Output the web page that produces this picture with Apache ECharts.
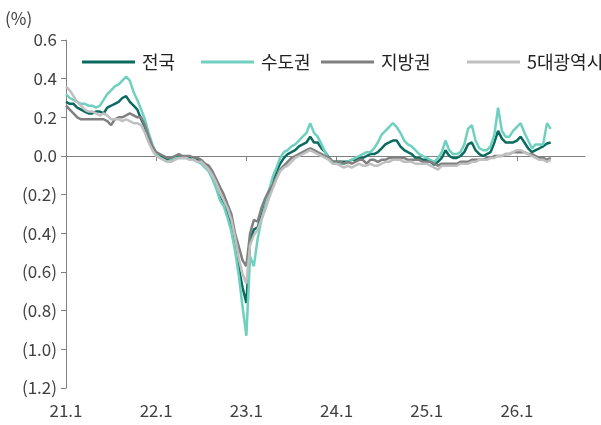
<!DOCTYPE html>
<html>
<head>
<meta charset="utf-8">
<script src="https://cdn.jsdelivr.net/npm/echarts@6/dist/echarts.min.js"></script>
<style>
html,body{margin:0;padding:0;background:#fff;}
#c{width:601px;height:425px;}
</style>
</head>
<body>
<div id="c"></div>
<script>
// Semi-monthly observations (1st and 16th of each month), Jan 2021 – mid May 2026
const seriesNames = ['전국', '수도권', '지방권', '5대광역시'];
const xTickYears = [2021, 2022, 2023, 2024, 2025, 2026];

const nationwide = [
  0.28, 0.27, 0.27, 0.25, 0.24, 0.23, 0.22, 0.22, 0.23, 0.23, 0.22, 0.25, 0.26, 0.27, 0.28, 0.30, 0.31, 0.28, 0.26, 0.24, 0.19, 0.15, 0.09, 0.04,
  0.01, 0.00, -0.01, -0.02, -0.02, -0.01, 0.00, -0.01, 0.00, -0.01, -0.01, -0.02, -0.03, -0.05, -0.07, -0.11, -0.16, -0.20, -0.24, -0.29, -0.35, -0.45, -0.58, -0.68,
  -0.76, -0.44, -0.38, -0.37, -0.31, -0.25, -0.19, -0.13, -0.08, -0.04, -0.01, 0.01, 0.02, 0.03, 0.05, 0.06, 0.07, 0.10, 0.07, 0.07, 0.04, 0.02, -0.01, -0.03,
  -0.03, -0.03, -0.03, -0.03, -0.02, -0.02, -0.01, -0.01, 0.00, 0.01, 0.01, 0.02, 0.04, 0.06, 0.07, 0.08, 0.08, 0.05, 0.03, 0.02, 0.01, -0.01, -0.01, -0.02,
  -0.02, -0.03, -0.045, -0.03, -0.01, 0.03, 0.00, -0.01, -0.01, 0.00, 0.02, 0.06, 0.07, 0.03, 0.01, 0.00, 0.01, 0.02, 0.07, 0.13, 0.09, 0.07, 0.07, 0.07,
  0.08, 0.10, 0.07, 0.04, 0.02, 0.03, 0.04, 0.05, 0.065, 0.07
];
const capital = [
  0.32, 0.30, 0.29, 0.28, 0.27, 0.27, 0.26, 0.26, 0.25, 0.26, 0.29, 0.32, 0.34, 0.36, 0.37, 0.39, 0.41, 0.39, 0.33, 0.29, 0.24, 0.19, 0.12, 0.06,
  0.01, -0.01, -0.02, -0.03, -0.02, -0.01, -0.01, -0.01, -0.01, -0.02, -0.02, -0.03, -0.04, -0.06, -0.08, -0.12, -0.17, -0.23, -0.26, -0.32, -0.39, -0.49, -0.62, -0.78,
  -0.93, -0.52, -0.57, -0.43, -0.33, -0.26, -0.18, -0.11, -0.06, -0.01, 0.02, 0.03, 0.05, 0.06, 0.08, 0.10, 0.12, 0.17, 0.12, 0.10, 0.06, 0.02, -0.02, -0.04,
  -0.04, -0.04, -0.04, -0.03, -0.02, -0.01, 0.00, 0.01, 0.02, 0.02, 0.04, 0.07, 0.11, 0.13, 0.15, 0.17, 0.15, 0.12, 0.08, 0.06, 0.05, 0.03, 0.01, 0.00,
  -0.01, -0.02, -0.03, -0.01, 0.02, 0.08, 0.03, 0.01, 0.01, 0.02, 0.06, 0.14, 0.16, 0.08, 0.04, 0.03, 0.03, 0.05, 0.11, 0.25, 0.13, 0.10, 0.10, 0.13,
  0.15, 0.17, 0.12, 0.08, 0.04, 0.06, 0.06, 0.06, 0.17, 0.14
];
const provinces = [
  0.26, 0.24, 0.22, 0.20, 0.19, 0.19, 0.19, 0.19, 0.19, 0.19, 0.19, 0.18, 0.16, 0.19, 0.20, 0.20, 0.21, 0.22, 0.21, 0.20, 0.20, 0.16, 0.10, 0.05,
  0.02, 0.01, 0.00, -0.01, -0.01, 0.00, 0.01, 0.00, 0.00, 0.00, -0.01, -0.01, -0.02, -0.04, -0.05, -0.08, -0.12, -0.16, -0.20, -0.25, -0.30, -0.40, -0.47, -0.54,
  -0.57, -0.40, -0.33, -0.34, -0.27, -0.22, -0.18, -0.15, -0.11, -0.07, -0.05, -0.03, -0.01, 0.00, 0.01, 0.02, 0.03, 0.04, 0.03, 0.02, 0.01, 0.00, -0.01, -0.03,
  -0.03, -0.03, -0.04, -0.03, -0.04, -0.03, -0.02, -0.02, -0.04, -0.02, -0.02, -0.03, -0.02, -0.02, -0.01, -0.01, -0.01, -0.01, -0.01, -0.02, -0.02, -0.02, -0.02, -0.03,
  -0.03, -0.03, -0.04, -0.05, -0.04, -0.04, -0.04, -0.04, -0.04, -0.03, -0.03, -0.03, -0.02, -0.02, -0.02, -0.02, -0.01, -0.01, 0.00, 0.00, 0.00, 0.01, 0.01, 0.02,
  0.02, 0.02, 0.02, 0.01, 0.01, 0.00, -0.01, -0.01, -0.02, -0.01
];
const metros = [
  0.36, 0.34, 0.31, 0.28, 0.26, 0.24, 0.23, 0.23, 0.22, 0.21, 0.22, 0.21, 0.19, 0.19, 0.19, 0.18, 0.19, 0.18, 0.17, 0.17, 0.16, 0.12, 0.07, 0.03,
  0.00, -0.01, -0.02, -0.03, -0.03, -0.02, -0.01, -0.01, -0.01, -0.02, -0.02, -0.03, -0.03, -0.05, -0.07, -0.10, -0.14, -0.19, -0.23, -0.27, -0.33, -0.42, -0.53, -0.61,
  -0.66, -0.46, -0.41, -0.38, -0.33, -0.28, -0.22, -0.17, -0.12, -0.08, -0.06, -0.05, -0.03, -0.01, 0.00, 0.01, 0.02, 0.03, 0.02, 0.01, 0.00, -0.01, -0.02, -0.04,
  -0.04, -0.05, -0.06, -0.05, -0.06, -0.05, -0.04, -0.05, -0.05, -0.04, -0.05, -0.05, -0.04, -0.03, -0.03, -0.02, -0.02, -0.02, -0.03, -0.03, -0.03, -0.04, -0.04, -0.04,
  -0.04, -0.05, -0.06, -0.07, -0.05, -0.05, -0.05, -0.05, -0.05, -0.04, -0.04, -0.04, -0.03, -0.03, -0.02, -0.02, -0.02, -0.01, -0.01, 0.00, 0.00, 0.01, 0.01, 0.02,
  0.03, 0.03, 0.02, 0.01, 0.00, -0.01, -0.02, -0.02, -0.03, -0.02
];

// observation dates: 1st and 16th of each month
const dates = [];
for (let i = 0; i < nationwide.length; i++) {
  const y = 2021 + Math.floor(i / 24);
  const m = Math.floor((i % 24) / 2) + 1;
  const d = (i % 2) ? 16 : 1;
  dates.push(y + '-' + String(m).padStart(2, '0') + '-' + String(d).padStart(2, '0'));
}
function toYear(s) {
  const [y, m, d] = s.split('-').map(Number);
  return y + (m - 1) / 12 + (d - 1) / 365;
}
function pairs(vals) { return vals.map((v, i) => [toYear(dates[i]), v]); }

const colors = ['#0b6b5e', '#6fd0c0', '#808080', '#c0c0c0'];
const allData = [nationwide, capital, provinces, metros];
const FONT = "'Noto Sans CJK KR', 'Noto Sans', sans-serif";
const legendLefts = [77, 196, 316, 462];

const chart = echarts.init(document.getElementById('c'), null, {renderer: 'canvas'});
chart.setOption({
  animation: false,
  backgroundColor: '#ffffff',
  textStyle: {fontFamily: FONT},
  grid: {left: 66, right: 16, top: 40, bottom: 37, containLabel: false},
  legend: seriesNames.map((n, i) => ({
    data: [n], left: legendLefts[i], top: 48, icon: 'rect', itemWidth: 53, itemHeight: 3,
    itemGap: 0, textStyle: {fontSize: 18, color: '#222', fontFamily: FONT, padding: [0, 0, 0, 2]}
  })),
  graphic: [{type: 'text', left: 5, top: 10, style: {text: '(%)', fontSize: 17, fill: '#404040', fontFamily: FONT}}],
  xAxis: [
    {
      type: 'value', min: 2021, max: 2026.755, interval: 1,
      axisLine: {show: true, onZero: true, lineStyle: {color: '#808080', width: 1}},
      axisTick: {show: true, length: 5, customValues: xTickYears, lineStyle: {color: '#808080'}},
      axisLabel: {show: false}, splitLine: {show: false}
    },
    {
      type: 'value', min: 2021, max: 2026.755, interval: 1, position: 'bottom',
      axisLine: {show: false, onZero: false}, axisTick: {show: false}, splitLine: {show: false},
      axisLabel: {show: true, margin: 14, fontSize: 17, color: '#404040', fontFamily: FONT,
        customValues: xTickYears,
        formatter: v => String(Math.round(v)).slice(2) + '.1'}
    }
  ],
  yAxis: {
    type: 'value', min: -1.2, max: 0.6, interval: 0.2,
    axisLine: {show: true, lineStyle: {color: '#808080', width: 1}},
    axisTick: {show: true, length: 5, lineStyle: {color: '#808080'}},
    splitLine: {show: false},
    axisLabel: {fontSize: 17, color: '#404040', margin: 9, fontFamily: FONT,
      formatter: v => { const r = Math.round(v * 10) / 10; return r < 0 ? '(' + (-r).toFixed(1) + ')' : r.toFixed(1); }}
  },
  series: seriesNames.map((n, i) => ({
    name: n, type: 'line', xAxisIndex: 0, data: pairs(allData[i]),
    showSymbol: false, symbol: 'none', smooth: false,
    lineStyle: {color: colors[i], width: 2.5}, itemStyle: {color: colors[i]}
  }))
});
</script>
</body>
</html>
